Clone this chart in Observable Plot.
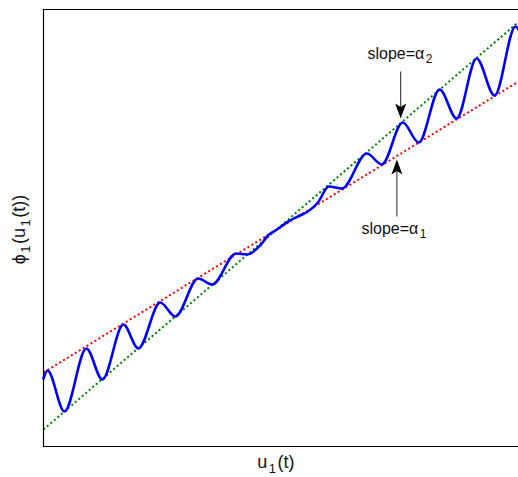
<!DOCTYPE html>
<html>
<head>
<meta charset="utf-8">
<script src="https://cdn.jsdelivr.net/npm/d3@7"></script>
<script src="https://cdn.jsdelivr.net/npm/@observablehq/plot@0.6"></script>
<style>
  html, body { margin: 0; padding: 0; background: #fff; overflow: hidden; }
  #chart { width: 518px; height: 477px; overflow: hidden; }
</style>
</head>
<body>
<div id="chart"></div>
<script>
// Blue curve φ1(u1(t)) (arbitrary units, u in [0,10], φ in [0,10])
const curveU = [0, 0.084, 0.441, 0.903, 1.239, 1.681, 1.996, 2.458, 2.773, 3.256, 3.550,
  4.055, 4.286, 4.559, 4.727, 4.916, 5.189, 5.399, 5.567, 5.777, 6.008, 6.282, 6.807,
  7.122, 7.563, 7.899, 8.340, 8.697, 9.118, 9.496, 9.937, 10.0];
const curvePhi = [1.556, 1.739, 0.801, 2.243, 1.533, 2.792, 2.243, 3.295, 2.975, 3.844, 3.707,
  4.416, 4.394, 4.600, 4.828, 4.966, 5.172, 5.286, 5.378, 5.584, 5.950, 5.904, 6.705,
  6.453, 7.414, 6.957, 8.169, 7.506, 8.879, 8.032, 9.611, 9.542];

// Dotted envelope lines
const lineU = [0, 10];
const redPhi = [1.693, 8.352];    // slope α1
const greenPhi = [0.389, 9.714];  // slope α2

// Text
const xLabel = "u_1(t)";
const yLabel = "ϕ_1(u_1(t))";
const annoTop = "slope=α_2";
const annoBottom = "slope=α_1";

const curve = curveU.map((u, i) => ({u, phi: curvePhi[i]}));
const red = lineU.map((u, i) => ({u, phi: redPhi[i]}));
const green = lineU.map((u, i) => ({u, phi: greenPhi[i]}));

// filled arrow head (pointing up), MATLAB-like "vback" shape
const arrowHead = {
  draw(context, size) {
    const k = Math.sqrt(size / Math.PI) / 7.5;
    context.moveTo(0, -7.5 * k);
    context.lineTo(5.5 * k, 7.5 * k);
    context.lineTo(0, 4 * k);
    context.lineTo(-5.5 * k, 7.5 * k);
    context.closePath();
  }
};

const font = "'Liberation Sans', Arial, Helvetica, sans-serif";

const plot = Plot.plot({
  width: 518,
  height: 477,
  marginLeft: 43,
  marginRight: 0,
  marginTop: 9,
  marginBottom: 31,
  x: {domain: [0, 10], axis: null},
  y: {domain: [0, 10], axis: null},
  style: {fontFamily: font, background: "white", overflow: "visible"},
  marks: [
    Plot.line(red, {x: "u", y: "phi", stroke: "#ff0000", strokeWidth: 2, strokeDasharray: "2,2.6", strokeLinecap: "butt"}),
    Plot.line(green, {x: "u", y: "phi", stroke: "#008000", strokeWidth: 2, strokeDasharray: "2,2.6", strokeLinecap: "butt"}),
    Plot.line(curve, {x: "u", y: "phi", stroke: "#0000ff", strokeWidth: 2.6, curve: "monotone-x"}),
    // box: top, bottom and left edges (right edge lies outside the window)
    Plot.ruleY([0, 10], {stroke: "#000", strokeWidth: 1.2}),
    Plot.ruleX([0], {stroke: "#000", strokeWidth: 1.2}),
    // arrow to the α2 line (pointing down)
    Plot.link([0], {x1: 7.52, x2: 7.52, y1: 8.581, y2: 7.70, stroke: "#222", strokeWidth: 1}),
    Plot.dot([0], {x: 7.52, y: 7.506, dy: -7.5, r: 7.5, symbol: arrowHead, rotate: 180, fill: "#000", stroke: "none"}),
    // arrow to the α1 line (pointing up)
    Plot.link([0], {x1: 7.44, x2: 7.44, y1: 5.263, y2: 6.40, stroke: "#222", strokeWidth: 1}),
    Plot.dot([0], {x: 7.44, y: 6.568, dy: 7.5, r: 7.5, symbol: arrowHead, fill: "#000", stroke: "none"}),
    Plot.text([annoTop], {x: 6.82, y: 8.993, text: d => d, textAnchor: "start", lineAnchor: "middle", fontSize: 16, fill: "#111"}),
    Plot.text([annoBottom], {x: 6.695, y: 4.989, text: d => d, textAnchor: "start", lineAnchor: "middle", fontSize: 16, fill: "#111"}),
    Plot.text([xLabel], {x: 4.89, y: -0.36, text: d => d, textAnchor: "middle", lineAnchor: "middle", fontSize: 18, fill: "#111"}),
    Plot.text([yLabel], {x: -0.505, y: 4.966, text: d => d, textAnchor: "middle", lineAnchor: "middle", rotate: -90, fontSize: 18, fill: "#111"})
  ]
});

// turn "_x" into subscripts
d3.select(plot).selectAll("text").each(function () {
  const el = this;
  const s = el.textContent;
  if (!s.includes("_")) return;
  const big = parseFloat(getComputedStyle(el).fontSize) || parseFloat(el.parentNode.getAttribute("font-size")) || 16;
  const subSize = Math.round(big * 0.72);
  const shift = Math.round(big * 0.25);
  el.textContent = "";
  const parts = s.split(/_(.)/);
  let down = false;
  parts.forEach((p, i) => {
    if (p === "") return;
    const t = d3.select(el).append("tspan").text(p);
    if (i % 2 === 1) {
      t.attr("font-size", subSize).attr("dy", shift).attr("dx", 1.5);
      down = true;
    } else if (down) {
      t.attr("dy", -shift).attr("dx", 1.5);
      down = false;
    }
  });
});

document.getElementById("chart").appendChild(plot);
</script>
</body>
</html>
